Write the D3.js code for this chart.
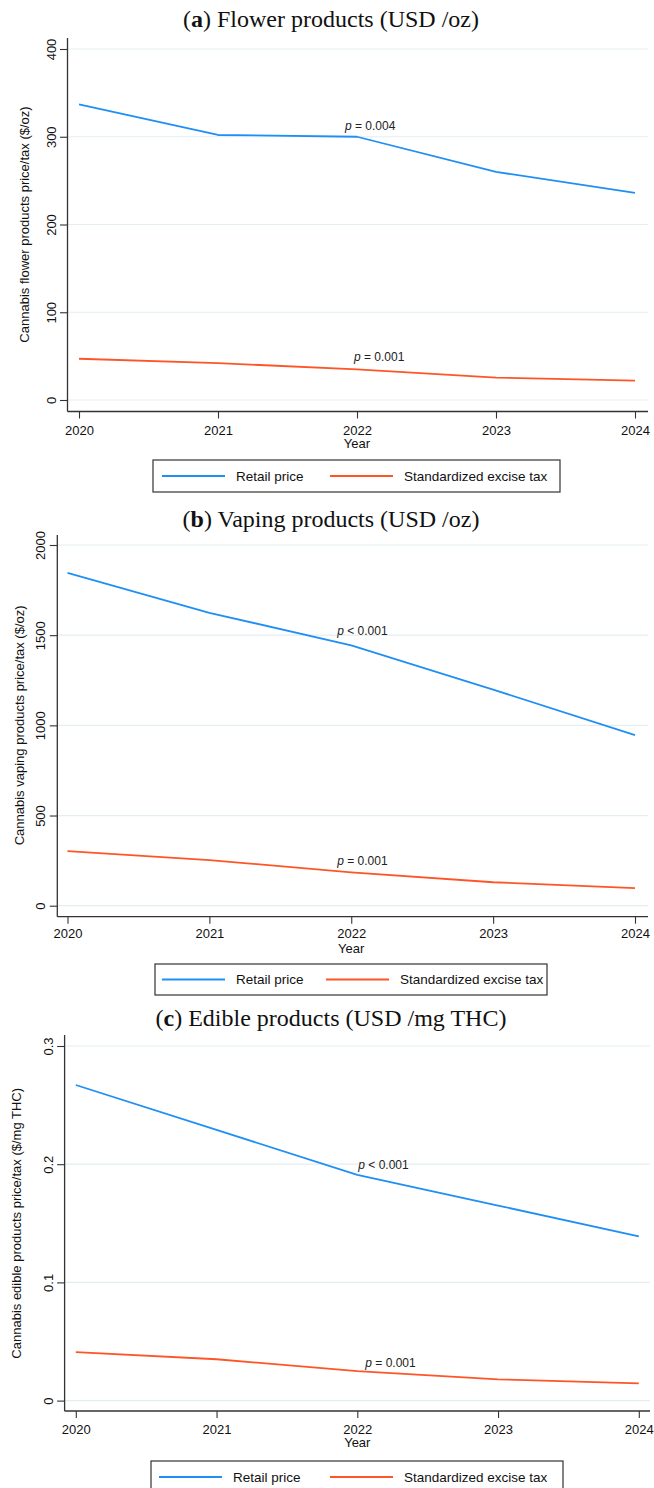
<!DOCTYPE html>
<html>
<head>
<meta charset="utf-8">
<script src="https://cdn.jsdelivr.net/npm/d3@7/dist/d3.min.js"></script>
<style>
  html, body { margin: 0; padding: 0; background: #fff; }
  svg { display: block; }
</style>
</head>
<body>
<svg id="chart" width="654" height="1488"></svg>
<script>
// Survey years shared by all three panels
const years = [2020, 2021, 2022, 2023, 2024];

// (a) Flower products, USD per ounce
const flowerRetail = [337, 302, 300, 260, 236];
const flowerTax = [47, 42, 35, 25.5, 22];
const flowerTicks = [0, 100, 200, 300, 400];

// (b) Vaping products, USD per ounce
const vapingRetail = [1845, 1624, 1444, 1198, 946];
const vapingTax = [303, 253, 185, 130, 98];
const vapingTicks = [0, 500, 1000, 1500, 2000];

// (c) Edible products, USD per mg THC
const edibleRetail = [0.267, 0.229, 0.191, 0.165, 0.139];
const edibleTax = [0.041, 0.035, 0.025, 0.018, 0.0145];
const edibleTicks = [0, 0.1, 0.2, 0.3];

// Trend test results printed near 2022
const flowerP = [["=", "0.004"], ["=", "0.001"]];
const vapingP = [["<", "0.001"], ["=", "0.001"]];
const edibleP = [["<", "0.001"], ["=", "0.001"]];

const seriesNames = ["Retail price", "Standardized excise tax"];
const seriesColors = ["#1f8ff5", "#ff5526"];

const svg = d3.select("#chart");
const SANS = "'Liberation Sans', Arial, sans-serif";
const SERIF = "'Liberation Serif', 'Times New Roman', serif";

function drawPanel(cfg) {
  const g = svg.append("g");

  const x = d3.scaleLinear().domain([2020, 2024]).range(cfg.xRange);
  const y = d3.scaleLinear().domain(cfg.yDomain).range(cfg.yRange);

  // panel title with bold letter
  const t = g.append("text")
    .attr("x", 331).attr("y", cfg.titleY)
    .attr("text-anchor", "middle")
    .style("font-family", SERIF).style("font-size", "24px").attr("fill", "#111");
  t.append("tspan").text("(");
  t.append("tspan").style("font-weight", "bold").text(cfg.letter);
  t.append("tspan").text(") " + cfg.title);

  // horizontal gridlines
  g.append("g").selectAll("line").data(cfg.ticks).join("line")
    .attr("x1", cfg.axisX).attr("x2", cfg.right)
    .attr("y1", d => y(d)).attr("y2", d => y(d))
    .attr("stroke", "#e4eef1").attr("stroke-width", 1.2);

  // y axis
  const ya = g.append("g").attr("transform", `translate(${cfg.axisX},0)`)
    .call(d3.axisLeft(y).tickValues(cfg.ticks).tickSize(7.5).tickFormat(cfg.fmt));
  ya.select(".domain").remove();
  ya.selectAll(".tick line").attr("stroke", "#333").attr("stroke-width", 1.1);
  ya.selectAll(".tick text")
    .attr("transform", "rotate(-90)")
    .attr("x", 0).attr("y", -12).attr("dy", 0)
    .attr("text-anchor", "middle")
    .style("font-family", SANS).style("font-size", "13px").attr("fill", "#111");
  g.append("line")
    .attr("x1", cfg.axisX).attr("x2", cfg.axisX)
    .attr("y1", cfg.axisTop).attr("y2", cfg.axisBottom)
    .attr("stroke", "#333").attr("stroke-width", 1.3);

  // x axis
  const xa = g.append("g").attr("transform", `translate(0,${cfg.axisBottom})`)
    .call(d3.axisBottom(x).tickValues(years).tickSize(7).tickFormat(d3.format("d")));
  xa.select(".domain").remove();
  xa.selectAll(".tick line").attr("stroke", "#333").attr("stroke-width", 1.1);
  xa.selectAll(".tick text")
    .attr("y", cfg.xLabelY - cfg.axisBottom).attr("dy", 0)
    .style("font-family", SANS).style("font-size", "13px").attr("fill", "#111");
  g.append("line")
    .attr("x1", cfg.axisX).attr("x2", cfg.right)
    .attr("y1", cfg.axisBottom).attr("y2", cfg.axisBottom)
    .attr("stroke", "#333").attr("stroke-width", 1.3);

  // axis titles
  g.append("text")
    .attr("x", (cfg.xRange[0] + cfg.xRange[1]) / 2).attr("y", cfg.yearY)
    .attr("text-anchor", "middle")
    .style("font-family", SANS).style("font-size", "13px").attr("fill", "#111")
    .text("Year");
  g.append("text")
    .attr("transform", `translate(${cfg.yTitleX},${(cfg.yRange[0] + cfg.yRange[1]) / 2}) rotate(-90)`)
    .attr("text-anchor", "middle")
    .style("font-family", SANS).style("font-size", "13px").attr("fill", "#111")
    .text(cfg.yTitle);

  // series lines
  const line = d3.line().x((d, i) => x(years[i])).y(d => y(d));
  cfg.series.forEach((vals, k) => {
    g.append("path").datum(vals)
      .attr("d", line)
      .attr("fill", "none")
      .attr("stroke", seriesColors[k])
      .attr("stroke-width", 1.8)
      .attr("stroke-linejoin", "round");
  });

  // p-value labels above the 2022 point of each series
  cfg.series.forEach((vals, k) => {
    const p = cfg.pLabels[k];
    const lt = g.append("text")
      .attr("x", x(2022) + cfg.pDx[k])
      .attr("y", y(vals[2]) - cfg.pDy[k])
      .style("font-family", SANS).style("font-size", "12px").attr("fill", "#222");
    lt.append("tspan").style("font-style", "italic").text("p");
    lt.append("tspan").text(" " + p[0] + " " + p[1]);
  });

  // legend
  const L = cfg.legend;
  g.append("rect")
    .attr("x", L.x).attr("y", L.y).attr("width", L.w).attr("height", L.h)
    .attr("fill", "#fff").attr("stroke", "#333").attr("stroke-width", 1.2);
  const ly = L.y + L.cy;
  seriesNames.forEach((name, k) => {
    const sx = L.items[k];
    g.append("line")
      .attr("x1", sx).attr("x2", sx + 63)
      .attr("y1", ly).attr("y2", ly)
      .attr("stroke", seriesColors[k]).attr("stroke-width", 1.8);
    g.append("text")
      .attr("x", sx + 74).attr("y", ly + 4.5)
      .style("font-family", SANS).style("font-size", "13.5px").attr("fill", "#111")
      .text(name);
  });
}

drawPanel({
  letter: "a", title: "Flower products (USD /oz)", titleY: 27,
  xRange: [79, 635], yDomain: [0, 400], yRange: [400, 49],
  ticks: flowerTicks, fmt: d3.format("d"),
  axisX: 67.5, axisTop: 38, axisBottom: 411.5, right: 648,
  xLabelY: 435, yearY: 448, yTitleX: 29,
  yTitle: "Cannabis flower products price/tax ($/oz)",
  series: [flowerRetail, flowerTax], pLabels: flowerP,
  pDx: [-12, -3], pDy: [7, 8],
  legend: { x: 153, y: 460, w: 407, h: 32, cy: 16, items: [162, 330] }
});

drawPanel({
  letter: "b", title: "Vaping products (USD /oz)", titleY: 527,
  xRange: [67.5, 635], yDomain: [0, 2000], yRange: [905.7, 545],
  ticks: vapingTicks, fmt: d3.format("d"),
  axisX: 57.3, axisTop: 535, axisBottom: 916.7, right: 648,
  xLabelY: 938, yearY: 952.5, yTitleX: 24,
  yTitle: "Cannabis vaping products price/tax ($/oz)",
  series: [vapingRetail, vapingTax], pLabels: vapingP,
  pDx: [-14, -14], pDy: [10, 7],
  legend: { x: 155, y: 964, w: 392, h: 31, cy: 15.5, items: [162, 326] }
});

drawPanel({
  letter: "c", title: "Edible products (USD /mg THC)", titleY: 1026,
  xRange: [75.8, 638.8], yDomain: [0, 0.3], yRange: [1400.6, 1046],
  ticks: edibleTicks, fmt: d => d === 0 ? "0" : d3.format(".1f")(d),
  axisX: 64.6, axisTop: 1035, axisBottom: 1411, right: 650,
  xLabelY: 1434, yearY: 1447, yTitleX: 21,
  yTitle: "Cannabis edible products price/tax ($/mg THC)",
  series: [edibleRetail, edibleTax], pLabels: edibleP,
  pDx: [1, 8], pDy: [6, 4],
  legend: { x: 151, y: 1461, w: 412, h: 34, cy: 16, items: [159, 330] }
});
</script>
</body>
</html>
